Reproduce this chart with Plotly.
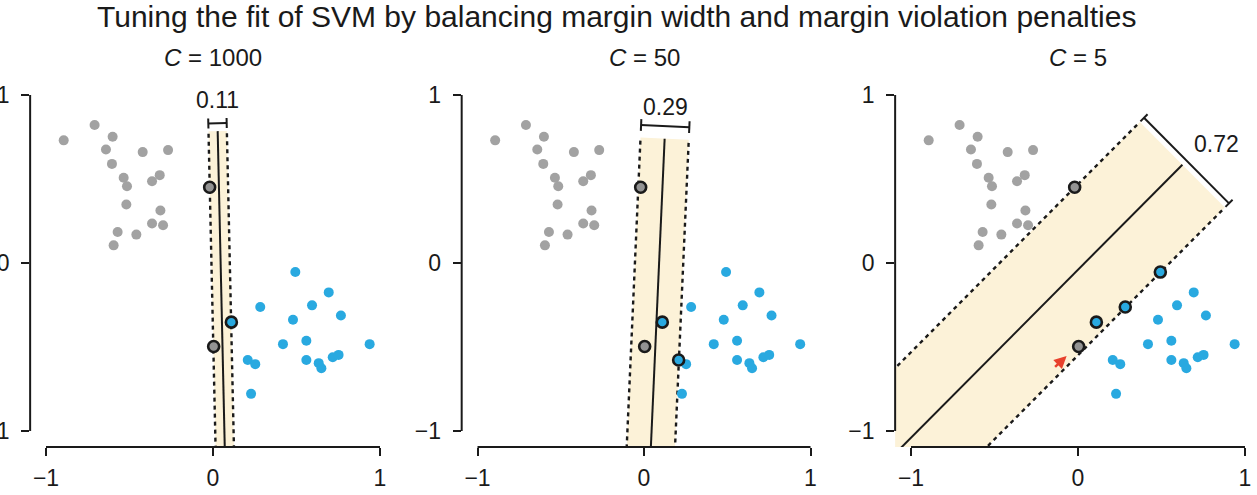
import numpy as np
import plotly.graph_objects as go

# ---------------- data ----------------
grey_x = [-0.894, -0.709, -0.601, -0.641, -0.421, -0.269, -0.605, -0.535, -0.515, -0.365,
          -0.319, -0.519, -0.315, -0.365, -0.299, -0.571, -0.459, -0.595, -0.020, 0.004]
grey_y = [0.730, 0.821, 0.751, 0.676, 0.660, 0.672, 0.590, 0.507, 0.457, 0.487,
          0.523, 0.348, 0.312, 0.235, 0.225, 0.185, 0.169, 0.105, 0.451, -0.497]
blue_x = [0.493, 0.693, 0.593, 0.283, 0.766, 0.479, 0.419, 0.559, 0.938, 0.559,
          0.633, 0.649, 0.717, 0.752, 0.208, 0.253, 0.228, 0.110]
blue_y = [-0.054, -0.175, -0.252, -0.262, -0.312, -0.338, -0.483, -0.463, -0.483, -0.577,
          -0.596, -0.626, -0.561, -0.547, -0.577, -0.602, -0.779, -0.352]

C_values = [1000, 50, 5]
margin_width = [0.11, 0.29, 0.72]
margin_labels = ["0.11", "0.29", "0.72"]
# hyperplane (decision boundary) drawn from a start point to an end point
hp_start_x = [0.075, 0.032, -1.30]
hp_start_y = [-1.30, -1.30, -1.34]
hp_end_x = [0.028, 0.124, 0.625]
hp_end_y = [0.785, 0.740, 0.585]
# support vectors per panel (indices into the grey / blue lists)
sv_grey = [[18, 19], [18, 19], [18, 19]]
sv_blue = [[17], [17, 14], [17, 3, 0]]
violator_panel = 2
violator_grey = 19

tick_vals = [-1, 0, 1]
tick_text = ["\u22121", "0", "1"]
main_title = "Tuning the fit of SVM by balancing margin width and margin violation penalties"

# ---------------- layout / style constants ----------------
W, H = 1257, 495
panel_cx = [213, 644, 1078]      # pixel x of data x=0
panel_ux = [167, 166.5, 167]     # pixels per data unit (x)
cy, uy = 263, 168                # pixel y of data y=0, pixels per unit (y)
LIM = 1.095

bracket_offset = [0.047, 0.075, 0.035]
cap_half = [0.03, 0.035, 0.03]
label_offset = [(0.0, 0.14), (0.0, 0.115), (0.18, 0.10)]

FONT = "Liberation Sans, Arial, Helvetica, sans-serif"
INK = "#1a1a1a"
GREY = "#a2a2a2"
GREY_SV = "#939393"
BLUE = "#29a9e0"
BAND = "#fcf2d8"
RED = "#e8412c"

fig = go.Figure()
annotations = []
shapes = []
layout_axes = {}

y_bot_px = cy + LIM * uy
y_top_px = cy - LIM * uy
ydom = [(H - y_bot_px) / H, (H - y_top_px) / H]

for i in range(3):
    xa = "x" if i == 0 else f"x{i+1}"
    ya = "y" if i == 0 else f"y{i+1}"
    cx, ux = panel_cx[i], panel_ux[i]
    left_px = cx - LIM * ux
    right_px = min(cx + LIM * ux, W)
    xr = [-LIM, (right_px - cx) / ux]
    xdom = [left_px / W, right_px / W]

    # geometry of the margin band
    S = np.array([hp_start_x[i], hp_start_y[i]])
    E = np.array([hp_end_x[i], hp_end_y[i]])
    u = (E - S) / np.linalg.norm(E - S)
    n = np.array([-u[1], u[0]])
    h = margin_width[i] / 2
    c1, c2, c3, c4 = S + n * h, E + n * h, E - n * h, S - n * h
    fig.add_trace(go.Scatter(x=[c1[0], c2[0], c3[0], c4[0], c1[0]],
                             y=[c1[1], c2[1], c3[1], c4[1], c1[1]],
                             mode="lines", fill="toself", fillcolor=BAND,
                             line=dict(width=0), xaxis=xa, yaxis=ya,
                             hoverinfo="skip", showlegend=False))
    for a, b in [(c1, c2), (c4, c3)]:
        fig.add_trace(go.Scatter(x=[a[0], b[0]], y=[a[1], b[1]], mode="lines",
                                 line=dict(color=INK, width=2.4, dash="4px,4px"),
                                 xaxis=xa, yaxis=ya, hoverinfo="skip", showlegend=False))
    fig.add_trace(go.Scatter(x=[S[0], E[0]], y=[S[1], E[1]], mode="lines",
                             line=dict(color=INK, width=2), xaxis=xa, yaxis=ya,
                             hoverinfo="skip", showlegend=False))

    # ordinary points
    gi = [k for k in range(len(grey_x)) if k not in sv_grey[i]]
    bi = [k for k in range(len(blue_x)) if k not in sv_blue[i]]
    fig.add_trace(go.Scatter(x=[grey_x[k] for k in gi], y=[grey_y[k] for k in gi],
                             mode="markers", marker=dict(color=GREY, size=10),
                             xaxis=xa, yaxis=ya, showlegend=False))
    fig.add_trace(go.Scatter(x=[blue_x[k] for k in bi], y=[blue_y[k] for k in bi],
                             mode="markers", marker=dict(color=BLUE, size=10),
                             xaxis=xa, yaxis=ya, showlegend=False))
    # support vectors
    fig.add_trace(go.Scatter(x=[grey_x[k] for k in sv_grey[i]], y=[grey_y[k] for k in sv_grey[i]],
                             mode="markers",
                             marker=dict(color=GREY_SV, size=11, line=dict(color=INK, width=2.6)),
                             xaxis=xa, yaxis=ya, showlegend=False))
    fig.add_trace(go.Scatter(x=[blue_x[k] for k in sv_blue[i]], y=[blue_y[k] for k in sv_blue[i]],
                             mode="markers",
                             marker=dict(color=BLUE, size=11, line=dict(color=INK, width=2.6)),
                             xaxis=xa, yaxis=ya, showlegend=False))

    # margin-width bracket
    B = E + u * bracket_offset[i]
    p1, p2 = B + n * h, B - n * h
    ch = cap_half[i]
    bx = [p1[0], p2[0], None, p1[0] - u[0] * ch, p1[0] + u[0] * ch, None,
          p2[0] - u[0] * ch, p2[0] + u[0] * ch]
    by = [p1[1], p2[1], None, p1[1] - u[1] * ch, p1[1] + u[1] * ch, None,
          p2[1] - u[1] * ch, p2[1] + u[1] * ch]
    fig.add_trace(go.Scatter(x=bx, y=by, mode="lines", line=dict(color=INK, width=2),
                             xaxis=xa, yaxis=ya, hoverinfo="skip", showlegend=False))
    lx, ly = B[0] + label_offset[i][0], B[1] + label_offset[i][1]
    annotations.append(dict(x=lx, y=ly, xref=xa, yref=ya, text=margin_labels[i],
                            showarrow=False, font=dict(family=FONT, size=23, color=INK),
                            xanchor="center", yanchor="middle"))

    # panel title
    annotations.append(dict(x=0, y=1 - 57.5 / H, xref=xa, yref="paper",
                            text=f"<i>C</i> = {C_values[i]}", showarrow=False,
                            font=dict(family=FONT, size=24, color=INK),
                            xanchor="center", yanchor="middle"))

    # axis lines spanning -1..1 only
    fx0 = (-1 - xr[0]) / (xr[1] - xr[0])
    fx1 = (1 - xr[0]) / (xr[1] - xr[0])
    fy0 = (-1 + LIM) / (2 * LIM)
    fy1 = (1 + LIM) / (2 * LIM)
    shapes.append(dict(type="line", xref=f"{xa} domain", yref=f"{ya} domain",
                       x0=fx0, x1=fx1, y0=0, y1=0, line=dict(color=INK, width=2)))
    shapes.append(dict(type="line", xref=f"{xa} domain", yref=f"{ya} domain",
                       x0=0, x1=0, y0=fy0, y1=fy1, line=dict(color=INK, width=2)))

    axcommon = dict(showgrid=False, zeroline=False, showline=False, ticks="outside",
                    ticklen=8, tickwidth=2, tickcolor=INK, tickmode="array",
                    tickvals=tick_vals, ticktext=tick_text, automargin=False,
                    tickfont=dict(family=FONT, size=23, color=INK), fixedrange=True)
    layout_axes["xaxis" if i == 0 else f"xaxis{i+1}"] = dict(
        domain=xdom, range=xr, anchor=ya, ticklabelstandoff=2, **axcommon)
    layout_axes["yaxis" if i == 0 else f"yaxis{i+1}"] = dict(
        domain=ydom, range=[-LIM, LIM], anchor=xa, ticklabelstandoff=7, **axcommon)

    if i == violator_panel:
        gx, gy = grey_x[violator_grey], grey_y[violator_grey]
        annotations.append(dict(x=gx - 0.072, y=gy - 0.056, ax=gx - 0.15, ay=gy - 0.13,
                                xref=xa, yref=ya, axref=xa, ayref=ya, text="",
                                showarrow=True, arrowhead=2, arrowsize=1, arrowwidth=2.5,
                                arrowcolor=RED, standoff=0, startstandoff=0))

annotations.append(dict(x=616 / W, y=1 - 16.5 / H, xref="paper", yref="paper",
                        text=main_title, showarrow=False,
                        font=dict(family=FONT, size=30, color=INK),
                        xanchor="center", yanchor="middle"))

fig.update_layout(width=W, height=H, autosize=False,
                  margin=dict(l=0, r=0, t=0, b=0, pad=0),
                  paper_bgcolor="white", plot_bgcolor="white",
                  annotations=annotations, shapes=shapes, showlegend=False,
                  **layout_axes)

fig.write_html("out.html", config={"displayModeBar": False})
